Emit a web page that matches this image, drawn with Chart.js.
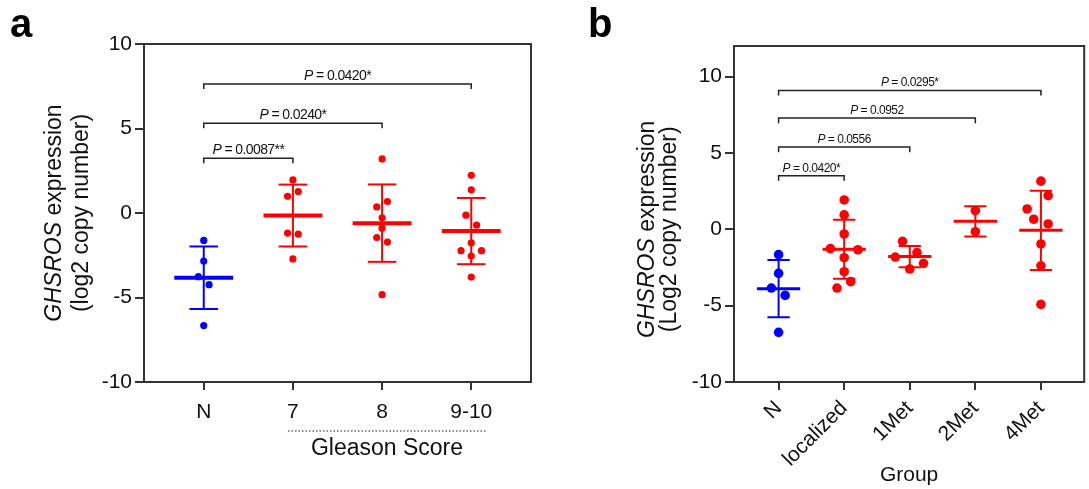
<!DOCTYPE html>
<html><head><meta charset="utf-8">
<script src="https://cdn.jsdelivr.net/npm/chart.js@4/dist/chart.umd.min.js"></script>
<style>
body{margin:0;background:#fff;width:1089px;height:489px;overflow:hidden;position:relative}
canvas{position:absolute;top:0}
</style>
</head><body>
<canvas id="ca" width="560" height="489" style="left:0;width:560px;height:489px"></canvas>
<canvas id="cb" width="529" height="489" style="left:560px;width:529px;height:489px"></canvas>
<script>
// ---------- Panel a data ----------
const catsA = ['N', '7', '8', '9-10'];
const aN   = [-1.62, -2.84, -3.77, -4.24, -6.66];
const a7   = [1.96, 1.27, 0.99, -1.19, -1.25, -2.72];
const a8   = [3.2, 0.68, 0.36, -0.28, -0.9, -1.45, -1.72, -4.83];
const a910 = [2.23, 1.37, -0.13, -0.72, -1.76, -2.23, -2.23, -2.55, -3.79];
const jitA = [[0, 0, -0.06, 0.06, 0], [0, 0.06, -0.06, -0.06, 0.06, 0], [0, 0.06, -0.06, 0, 0, -0.06, 0.06, 0], [0, 0, -0.06, 0.06, 0, -0.115, 0.115, 0, 0]];
const meanA = [-3.83, -0.15, -0.6, -1.07];
const sdA   = [1.85, 1.83, 2.29, 1.96];
const pA    = ['0.0087**', '0.0240*', '0.0420*'];
const pToA  = [2, 3, 4];
const yTicksA = [-10, -5, 0, 5, 10];

// ---------- Panel b data ----------
const catsB = ['N', 'localized', '1Met', '2Met', '4Met'];
const bN    = [-1.66, -2.89, -3.85, -4.33, -6.75];
const bLoc  = [1.92, 0.94, -0.31, -1.27, -1.34, -1.86, -2.78, -3.43, -3.85];
const b1Met = [-0.79, -1.53, -1.82, -2.23, -2.6];
const b2Met = [1.22, -0.16];
const b4Met = [3.15, 2.2, 1.33, 0.66, 0.35, -0.96, -2.39, -4.92];
const jitB  = [[0, 0, -0.11, 0.1, 0], [0, 0, 0, -0.21, 0.21, 0, 0, 0.1, -0.11], [-0.11, 0.11, -0.22, 0.21, 0], [0, 0], [0, 0.11, -0.21, -0.11, 0.11, 0, 0, 0]];
const meanB = [-3.89, -1.31, -1.79, 0.52, -0.07];
const sdB   = [1.87, 1.93, 0.69, 0.99, 2.6];
const pB    = ['0.0420*', '0.0556', '0.0952', '0.0295*'];
const pToB  = [2, 3, 4, 5];
const yTicksB = [-10, -5, 0, 5, 10];

// ---------- styling / layout ----------
const F = "'Liberation Sans', Arial, sans-serif";
const BLUE = 'rgb(0,0,255)', RED = 'rgb(255,0,0)', AX = '#333';

function buildDatasets(groups, jit, means, sds, st) {
  const ds = [];
  groups.forEach((vals, i) => {
    const x = i + 1, c = i === 0 ? BLUE : RED, m = means[i], s = sds[i];
    const line = (pts, w) => ({type: 'line', data: pts, borderColor: c, borderWidth: w, pointRadius: 0, pointHoverRadius: 0, fill: false, borderCapStyle: 'butt'});
    ds.push(line([{x: x - st.meanHalf, y: m}, {x: x + st.meanHalf, y: m}], st.meanW));
    ds.push(line([{x: x, y: m - s}, {x: x, y: m + s}], st.barW));
    ds.push(line([{x: x - st.capHalf, y: m + s}, {x: x + st.capHalf, y: m + s}], st.barW));
    ds.push(line([{x: x - st.capHalf, y: m - s}, {x: x + st.capHalf, y: m - s}], st.barW));
    ds.push({type: 'scatter', data: vals.map((v, k) => ({x: x + jit[i][k], y: v})), backgroundColor: c, borderWidth: 0, pointRadius: st.r, pointHoverRadius: st.r});
  });
  st.levels.forEach((lv, i) => {
    const to = st.pTo[i];
    ds.push({type: 'line', data: [{x: 1, y: lv - st.tick}, {x: 1, y: lv}, {x: to, y: lv}, {x: to, y: lv - st.tick}],
      borderColor: '#222', borderWidth: 1.5, pointRadius: 0, pointHoverRadius: 0, fill: false});
  });
  return ds;
}

function overlay(st) {
  return {
    id: 'overlay',
    afterDraw(chart) {
      const {ctx, chartArea: ca, scales: {x, y}} = chart;
      ctx.save();
      ctx.strokeStyle = AX; ctx.lineWidth = 2;
      ctx.strokeRect(ca.left, ca.top, ca.right - ca.left, ca.bottom - ca.top);
      // P values
      ctx.fillStyle = '#111';
      ctx.textBaseline = 'alphabetic';
      st.levels.forEach((lv, i) => {
        const xc = (x.getPixelForValue(1) + x.getPixelForValue(st.pTo[i])) / 2;
        const yb = y.getPixelForValue(lv) - 4;
        ctx.letterSpacing = st.pLS;
        ctx.font = 'italic ' + st.pSize + 'px ' + F;
        const w1 = ctx.measureText('P').width;
        ctx.font = st.pSize + 'px ' + F;
        const t2 = ' = ' + st.p[i];
        const w2 = ctx.measureText(t2).width;
        const x0 = xc - (w1 + w2) / 2;
        ctx.textAlign = 'left';
        ctx.font = 'italic ' + st.pSize + 'px ' + F;
        ctx.fillText('P', x0, yb);
        ctx.font = st.pSize + 'px ' + F;
        ctx.fillText(t2, x0 + w1, yb);
      });
      ctx.letterSpacing = '0px';
      // y title
      const cy = (y.getPixelForValue(10) + y.getPixelForValue(-10)) / 2;
      ctx.save();
      ctx.translate(st.yT1x, cy);
      ctx.rotate(-Math.PI / 2);
      ctx.textBaseline = 'middle';
      ctx.font = 'italic ' + st.ySize + 'px ' + F;
      const g = ctx.measureText('GHSROS').width;
      ctx.font = st.ySize + 'px ' + F;
      const e = ctx.measureText(' expression').width;
      ctx.textAlign = 'left';
      ctx.font = 'italic ' + st.ySize + 'px ' + F;
      ctx.fillText('GHSROS', -(g + e) / 2, 0);
      ctx.font = st.ySize + 'px ' + F;
      ctx.fillText(' expression', -(g + e) / 2 + g, 0);
      ctx.textAlign = 'center';
      ctx.fillText(st.yLine2, 0, st.yT2x - st.yT1x);
      ctx.restore();
      // panel letter
      ctx.font = 'bold 40px ' + F;
      ctx.textAlign = 'left';
      ctx.textBaseline = 'alphabetic';
      ctx.fillStyle = '#000';
      ctx.fillText(st.letter, st.letterX, 37);
      // x title
      st.xTitle(ctx, chart);
      ctx.restore();
    }
  };
}

function makeChart(id, cats, groups, jit, means, sds, yTicks, st) {
  return new Chart(document.getElementById(id), {
    type: 'scatter',
    data: {datasets: buildDatasets(groups, jit, means, sds, st)},
    options: {
      responsive: false, animation: false, devicePixelRatio: 1,
      layout: {padding: {left: 0, top: st.top, right: st.right, bottom: 0}},
      plugins: {legend: {display: false}, tooltip: {enabled: false}},
      events: [],
      scales: {
        x: {type: 'linear', min: st.xmin, max: st.xmax,
          afterBuildTicks: s => { s.ticks = cats.map((c, i) => ({value: i + 1})); },
          afterFit: s => { s.height = st.xH; },
          ticks: {callback: v => cats[Math.round(v) - 1], font: {family: F, size: 21}, color: '#111', padding: st.xPad,
            autoSkip: false, maxRotation: st.rot, minRotation: st.rot},
          grid: {drawOnChartArea: false, drawTicks: true, tickLength: 8, color: AX, lineWidth: 2},
          border: {display: true, color: AX, width: 2}},
        y: {min: -10, max: st.ymax,
          afterBuildTicks: s => { s.ticks = yTicks.map(v => ({value: v})); },
          afterFit: s => { s.width = st.yW; },
          ticks: {font: {family: F, size: 21}, color: '#111', padding: 3},
          grid: {drawOnChartArea: false, drawTicks: true, tickLength: 9, color: AX, lineWidth: 2},
          border: {display: true, color: AX, width: 2}}
      }
    },
    plugins: [overlay(st)]
  });
}

makeChart('ca', catsA, [aN, a7, a8, a910], jitA, meanA, sdA, yTicksA, {
  top: 44, right: 29, xH: 107, yW: 144, xmin: 0.33, xmax: 4.67, ymax: 10, rot: 0, xPad: 10,
  r: 3.6, meanHalf: 0.33, capHalf: 0.16, meanW: 4, barW: 2,
  levels: [3.24, 5.31, 7.63], tick: 0.3, pTo: pToA, p: pA, pSize: 14, pLS: '-0.6px',
  yT1x: 55, yT2x: 82, ySize: 23, yLine2: '(log2 copy number)', letter: 'a', letterX: 10,
  xTitle: (ctx, chart) => {
    ctx.save();
    ctx.strokeStyle = '#666'; ctx.lineWidth = 1.5; ctx.setLineDash([1.5, 2]);
    ctx.beginPath(); ctx.moveTo(288, 431); ctx.lineTo(487, 431); ctx.stroke();
    ctx.restore();
    ctx.fillStyle = '#111'; ctx.font = '23px ' + F; ctx.textAlign = 'center'; ctx.textBaseline = 'middle';
    ctx.fillText('Gleason Score', 387, 449);
  }
});

makeChart('cb', catsB, [bN, bLoc, b1Met, b2Met, b4Met], jitB, meanB, sdB, yTicksB, {
  top: 46, right: 3, xH: 107, yW: 174, xmin: 0.32, xmax: 5.66, ymax: 12, rot: 45, xPad: 6,
  r: 4.8, meanHalf: 0.33, capHalf: 0.17, meanW: 3, barW: 2,
  levels: [3.5, 5.38, 7.28, 9.09], tick: 0.33, pTo: pToB, p: pB, pSize: 12, pLS: '-0.5px',
  yT1x: 88, yT2x: 110, ySize: 23, yLine2: '(Log2 copy number)', letter: 'b', letterX: 28,
  xTitle: (ctx, chart) => {
    const ca = chart.chartArea;
    ctx.fillStyle = '#111'; ctx.font = '21px ' + F; ctx.textAlign = 'center'; ctx.textBaseline = 'middle';
    ctx.fillText('Group', (ca.left + ca.right) / 2, 475);
  }
});
</script>
</body></html>
